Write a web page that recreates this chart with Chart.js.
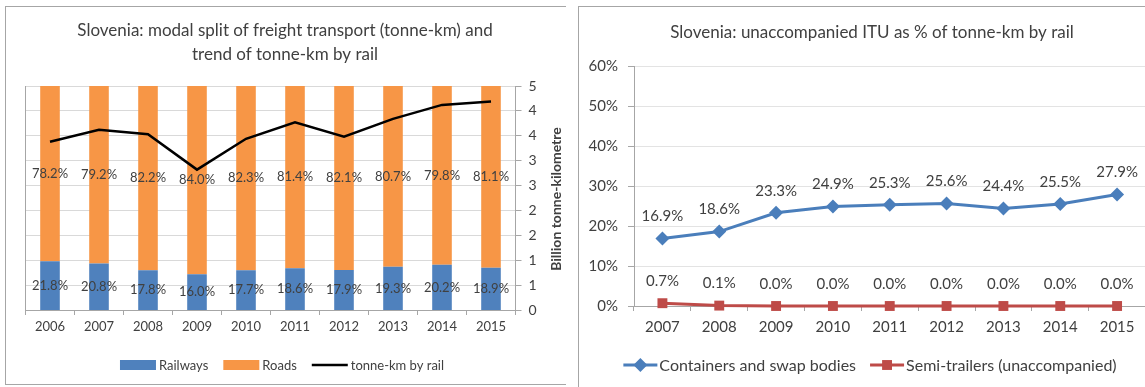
<!DOCTYPE html>
<html>
<head>
<meta charset="utf-8">
<title>Slovenia freight</title>
<script src="https://cdn.jsdelivr.net/npm/chart.js@4.4.1/dist/chart.umd.min.js"></script>
<style>
  body { margin: 0; background: #fff; width: 1145px; height: 387px; overflow: hidden; position: relative; }
  .panel { position: absolute; box-sizing: border-box; border: 1px solid #a6a6a6; }
  #leftPanel { left: 5px; top: 6px; width: 561px; height: 379px; border-right: none; }
  #rightPanel { left: 578px; top: 6px; width: 600px; height: 400px; }
  canvas { display: block; }
</style>
</head>
<body>
<div class="panel" id="leftPanel"><canvas id="modalChart" width="560" height="377"></canvas></div>
<div class="panel" id="rightPanel"><canvas id="ituChart" width="588" height="377"></canvas></div>

<script>
// modal split, shares in %
const years = ['2006', '2007', '2008', '2009', '2010', '2011', '2012', '2013', '2014', '2015'];
const railShare = [21.8, 20.8, 17.8, 16.0, 17.7, 18.6, 17.9, 19.3, 20.2, 18.9];
const roadShare = [78.2, 79.2, 82.2, 84.0, 82.3, 81.4, 82.1, 80.7, 79.8, 81.1];
// rail volume, billion tonne-km
const railTkm = [3.38, 3.62, 3.53, 2.82, 3.44, 3.77, 3.48, 3.84, 4.12, 4.19];
const tkmTickLabels = ['0', '1', '1', '2', '2', '3', '3', '4', '4', '5'];

// unaccompanied ITU, % of rail tonne-km
const ituYears = ['2007', '2008', '2009', '2010', '2011', '2012', '2013', '2014', '2015'];
const containerShare = [16.9, 18.6, 23.3, 24.9, 25.3, 25.6, 24.4, 25.5, 27.9];
const semiTrailerShare = [0.7, 0.1, 0.0, 0.0, 0.0, 0.0, 0.0, 0.0, 0.0];

const FONT = 'Lato, "Open Sans", sans-serif';
const TEXT = '#404040';
const AXIS = '#a6a6a6';

function drawMarker(ctx, style, x, y, r) {
    ctx.beginPath();
    if (style === 'rectRot') {
        ctx.moveTo(x, y - r);
        ctx.lineTo(x + r, y);
        ctx.lineTo(x, y + r);
        ctx.lineTo(x - r, y);
        ctx.closePath();
    } else {
        const s = r * Math.SQRT1_2;
        ctx.rect(x - s, y - s, 2 * s, 2 * s);
    }
    ctx.fill();
}

// percentage labels on bars / above points
const valueLabels = {
    id: 'valueLabels',
    afterDatasetsDraw(chart, args, opts) {
        const ctx = chart.ctx;
        ctx.save();
        ctx.font = opts.font;
        ctx.fillStyle = opts.color;
        ctx.textAlign = 'center';
        ctx.textBaseline = 'middle';
        chart.data.datasets.forEach((ds, i) => {
            if (!ds.showValues) return;
            chart.getDatasetMeta(i).data.forEach((el, j) => {
                const p = el.getCenterPoint();
                ctx.fillText(ds.data[j].toFixed(1) + '%', p.x, p.y + (opts.dy || 0));
            });
        });
        ctx.restore();
    }
};

// title, rotated axis title and legend row
const panelText = {
    id: 'panelText',
    afterDraw(chart, args, o) {
        const ctx = chart.ctx;
        ctx.save();
        ctx.fillStyle = TEXT;
        ctx.textAlign = 'center';
        ctx.textBaseline = 'middle';
        ctx.font = o.titleFont;
        o.title.forEach((line, i) => ctx.fillText(line, o.titleX, o.titleY + i * o.titleLineHeight));

        if (o.axisTitle) {
            ctx.save();
            ctx.translate(o.axisTitle.x, o.axisTitle.y);
            ctx.rotate(-Math.PI / 2);
            ctx.font = o.axisTitle.font;
            ctx.fillText(o.axisTitle.text, 0, 0);
            ctx.restore();
        }

        ctx.font = o.legendFont;
        const items = chart.data.datasets;
        const widths = items.map(ds => o.swatchW + o.swatchGap + ctx.measureText(ds.label).width);
        const total = widths.reduce((a, b) => a + b, 0) + o.itemGap * (items.length - 1);
        let x = o.legendX - total / 2;
        const y = o.legendY;
        items.forEach((ds, k) => {
            const isLine = (ds.type || chart.config.type) === 'line';
            if (isLine) {
                ctx.strokeStyle = ds.borderColor;
                ctx.lineWidth = ds.borderWidth;
                ctx.beginPath();
                ctx.moveTo(x, y);
                ctx.lineTo(x + o.swatchW, y);
                ctx.stroke();
                if (ds.pointRadius) {
                    ctx.fillStyle = ds.backgroundColor;
                    drawMarker(ctx, ds.pointStyle, x + o.swatchW / 2, y, ds.pointRadius);
                }
            } else {
                ctx.fillStyle = ds.backgroundColor;
                ctx.fillRect(x, y - o.swatchH / 2, o.swatchW, o.swatchH);
            }
            ctx.fillStyle = TEXT;
            ctx.textAlign = 'left';
            ctx.fillText(ds.label, x + o.swatchW + o.swatchGap, y + 1);
            x += widths[k] + o.itemGap;
        });
        ctx.restore();
    }
};

new Chart(document.getElementById('modalChart'), {
    data: {
        labels: years,
        datasets: [
            {
                type: 'bar', label: 'Railways', data: railShare,
                backgroundColor: '#4f81bd', yAxisID: 'share', stack: 'split', order: 1,
                barPercentage: 0.4, categoryPercentage: 1, showValues: true
            },
            {
                type: 'bar', label: 'Roads', data: roadShare,
                backgroundColor: '#f79646', yAxisID: 'share', stack: 'split', order: 1,
                barPercentage: 0.4, categoryPercentage: 1, showValues: true
            },
            {
                type: 'line', label: 'tonne-km by rail', data: railTkm,
                borderColor: '#000', backgroundColor: '#000', borderWidth: 2.5,
                pointRadius: 0, tension: 0, yAxisID: 'tkm', order: 0
            }
        ]
    },
    options: {
        responsive: false,
        animation: false,
        layout: { padding: { left: 19.5, right: 0, top: 79, bottom: 44 } },
        scales: {
            x: {
                stacked: true,
                offset: true,
                grid: { offset: true, drawOnChartArea: false, tickLength: 5, color: AXIS },
                border: { color: AXIS },
                ticks: { font: { family: FONT, size: 13 }, color: TEXT, padding: 4, maxRotation: 0 },
                afterFit: s => { s.height = 30; }
            },
            share: {
                position: 'left', stacked: true, min: 0, max: 100,
                ticks: { display: false },
                grid: { display: false },
                border: { color: AXIS },
                afterFit: s => { s.width = 0; }
            },
            tkm: {
                position: 'right', min: 0, max: 4.5,
                ticks: {
                    stepSize: 0.5, padding: 7, color: TEXT,
                    font: { family: FONT, size: 14 },
                    callback: (v, i) => tkmTickLabels[i]
                },
                grid: { color: '#d9d9d9', tickColor: AXIS, tickLength: 6 },
                border: { color: AXIS },
                afterFit: s => { s.width = 50.5; }
            }
        },
        plugins: {
            legend: { display: false },
            tooltip: { enabled: false },
            valueLabels: { font: '13px ' + FONT, color: TEXT, dy: 0 },
            panelText: {
                title: ['Slovenia: modal split of freight transport (tonne-km) and', 'trend of tonne-km by rail'],
                titleFont: '17px ' + FONT, titleX: 279, titleY: 24, titleLineHeight: 24,
                axisTitle: { text: 'Billion tonne-kilometre', font: 'bold 14px ' + FONT, x: 550, y: 192 },
                legendFont: '13px ' + FONT, legendX: 276, legendY: 358,
                swatchW: 36, swatchH: 10, swatchGap: 3, itemGap: 15
            }
        }
    },
    plugins: [valueLabels, panelText]
});

new Chart(document.getElementById('ituChart'), {
    type: 'line',
    data: {
        labels: ituYears,
        datasets: [
            {
                label: 'Containers and swap bodies', data: containerShare,
                borderColor: '#4a7ebb', backgroundColor: '#4a7ebb', borderWidth: 3,
                pointStyle: 'rectRot', pointRadius: 7, pointBorderWidth: 0, tension: 0,
                clip: false, showValues: true
            },
            {
                label: 'Semi-trailers (unaccompanied)', data: semiTrailerShare,
                borderColor: '#be4b48', backgroundColor: '#be4b48', borderWidth: 3,
                pointStyle: 'rect', pointRadius: 7, pointBorderWidth: 0, tension: 0,
                clip: false, showValues: true
            }
        ]
    },
    options: {
        responsive: false,
        animation: false,
        layout: { padding: { left: 0, right: 21.5, top: 59, bottom: 48 } },
        scales: {
            x: {
                offset: true,
                grid: { offset: true, drawOnChartArea: false, tickLength: 5, color: AXIS },
                border: { color: AXIS },
                ticks: { font: { family: FONT, size: 15 }, color: TEXT, padding: 7, maxRotation: 0 },
                afterFit: s => { s.height = 30; }
            },
            y: {
                min: 0, max: 60,
                ticks: {
                    stepSize: 10, padding: 10, color: TEXT,
                    font: { family: FONT, size: 15 },
                    callback: v => v + '%'
                },
                grid: { color: '#e3e3e3', tickColor: AXIS, tickLength: 6 },
                border: { color: AXIS },
                afterFit: s => { s.width = 55; }
            }
        },
        plugins: {
            legend: { display: false },
            tooltip: { enabled: false },
            valueLabels: { font: '15px ' + FONT, color: TEXT, dy: -22 },
            panelText: {
                title: ['Slovenia: unaccompanied ITU as % of tonne-km by rail'],
                titleFont: '17px ' + FONT, titleX: 293, titleY: 26, titleLineHeight: 24,
                legendFont: '16px ' + FONT, legendX: 291, legendY: 358,
                swatchW: 34, swatchGap: 2, itemGap: 14
            }
        }
    },
    plugins: [valueLabels, panelText]
});
</script>
</body>
</html>
